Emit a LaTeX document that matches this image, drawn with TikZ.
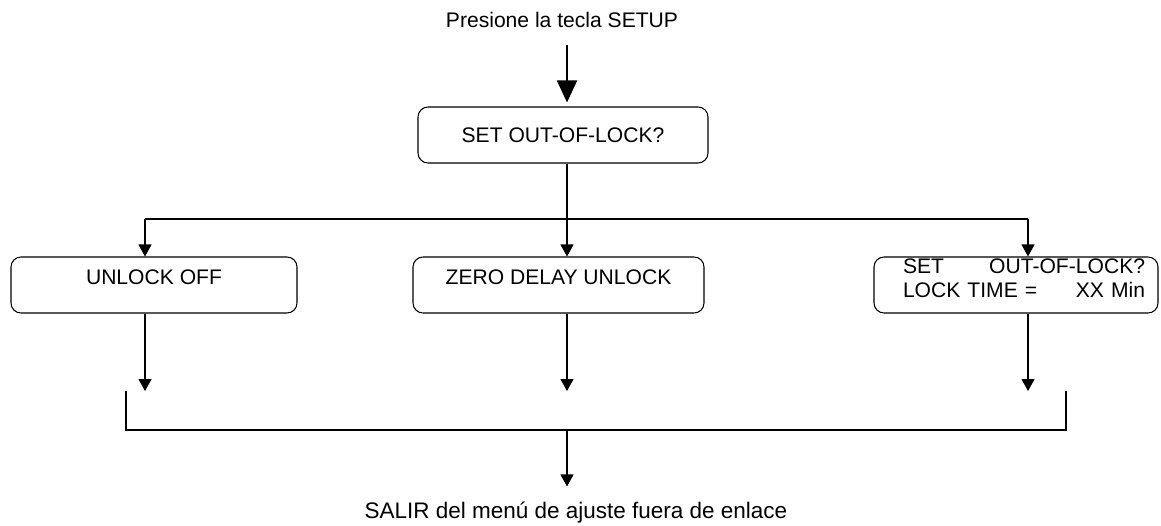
\documentclass[tikz,border=0pt]{standalone}
\usepackage{fontspec}
\setmainfont{Liberation Sans}
\usetikzlibrary{arrows.meta}
\tikzset{
	menubox/.style={draw, rounded corners=0.2cm, minimum height=1.12cm, inner sep=0pt},
	flow/.style={-{Triangle[width=0.26cm, length=0.24cm]}},
	bigflow/.style={line width=1.1pt, -{Triangle[width=0.4cm, length=0.44cm]}, shorten >=0.08cm},
}
\newcommand{\lowdepth}[1][0.3cm]{\rule[-#1]{0pt}{#1}}

\begin{document}
\begin{tikzpicture}[font=\fontsize{12}{13.6}\selectfont, line width=0.6pt]
		\useasboundingbox(0, 0) rectangle (23.22, 10.5);
		% menu boxes
		\node[anchor=base](setup)at(11.24, 9.94){Presione la tecla SETUP};
		\node[menubox, minimum width=5.8cm](outlock)at(11.26, 7.80){SET OUT-OF-LOCK?};
		\node[menubox, minimum width=5.72cm](unlock)at(3.08, 4.80){UNLOCK OFF\lowdepth};
		\node[menubox, minimum width=5.82cm](zero)at(11.17, 4.80){ZERO DELAY UNLOCK\lowdepth};
		\node[menubox, minimum width=5.68cm, text width=5.16cm, align=left](locktime)at(20.32, 4.80)
			{\hspace*{0.32cm}SET\hfill OUT-OF-LOCK?\\\hspace*{0.32cm}LOCK TIME =\hfill XX Min\lowdepth[0.26cm]};
		\node[anchor=base, inner sep=0pt, text height=0.3cm, font=\fontsize{12.8}{14}\selectfont](salir)at(11.52, 0.14)
			{SALIR del menú de ajuste fuera de enlace};
		% branch points
		\coordinate(start)at(11.34, 9.60);
		\coordinate(split)at(11.34, 6.12);
		\coordinate(splitL)at(2.90, 6.12);
		\coordinate(splitR)at(20.56, 6.12);
		\coordinate(exitL)at(2.52, 2.68);
		\coordinate(exitR)at(21.32, 2.68);
		\coordinate(exit)at(11.34, 1.90);
		% connectors
		\draw[bigflow](start)--(start |- outlock.north);
		\draw(outlock.south -| split)--(split);
		\draw(splitL)--(splitR);
		\draw[flow](splitL)--(splitL |- unlock.north);
		\draw[flow](split)--(split |- zero.north);
		\draw[flow](splitR)--(splitR |- locktime.north);
		\draw[flow](unlock.south -| splitL)--(splitL |- exitL);
		\draw[flow](zero.south -| split)--(split |- exitL);
		\draw[flow](locktime.south -| splitR)--(splitR |- exitL);
		\draw(exitL) |- (exit) -| (exitR);
		\draw[flow](exit)--([yshift=0.32cm]salir.north -| exit);
	\end{tikzpicture}
\end{document}
